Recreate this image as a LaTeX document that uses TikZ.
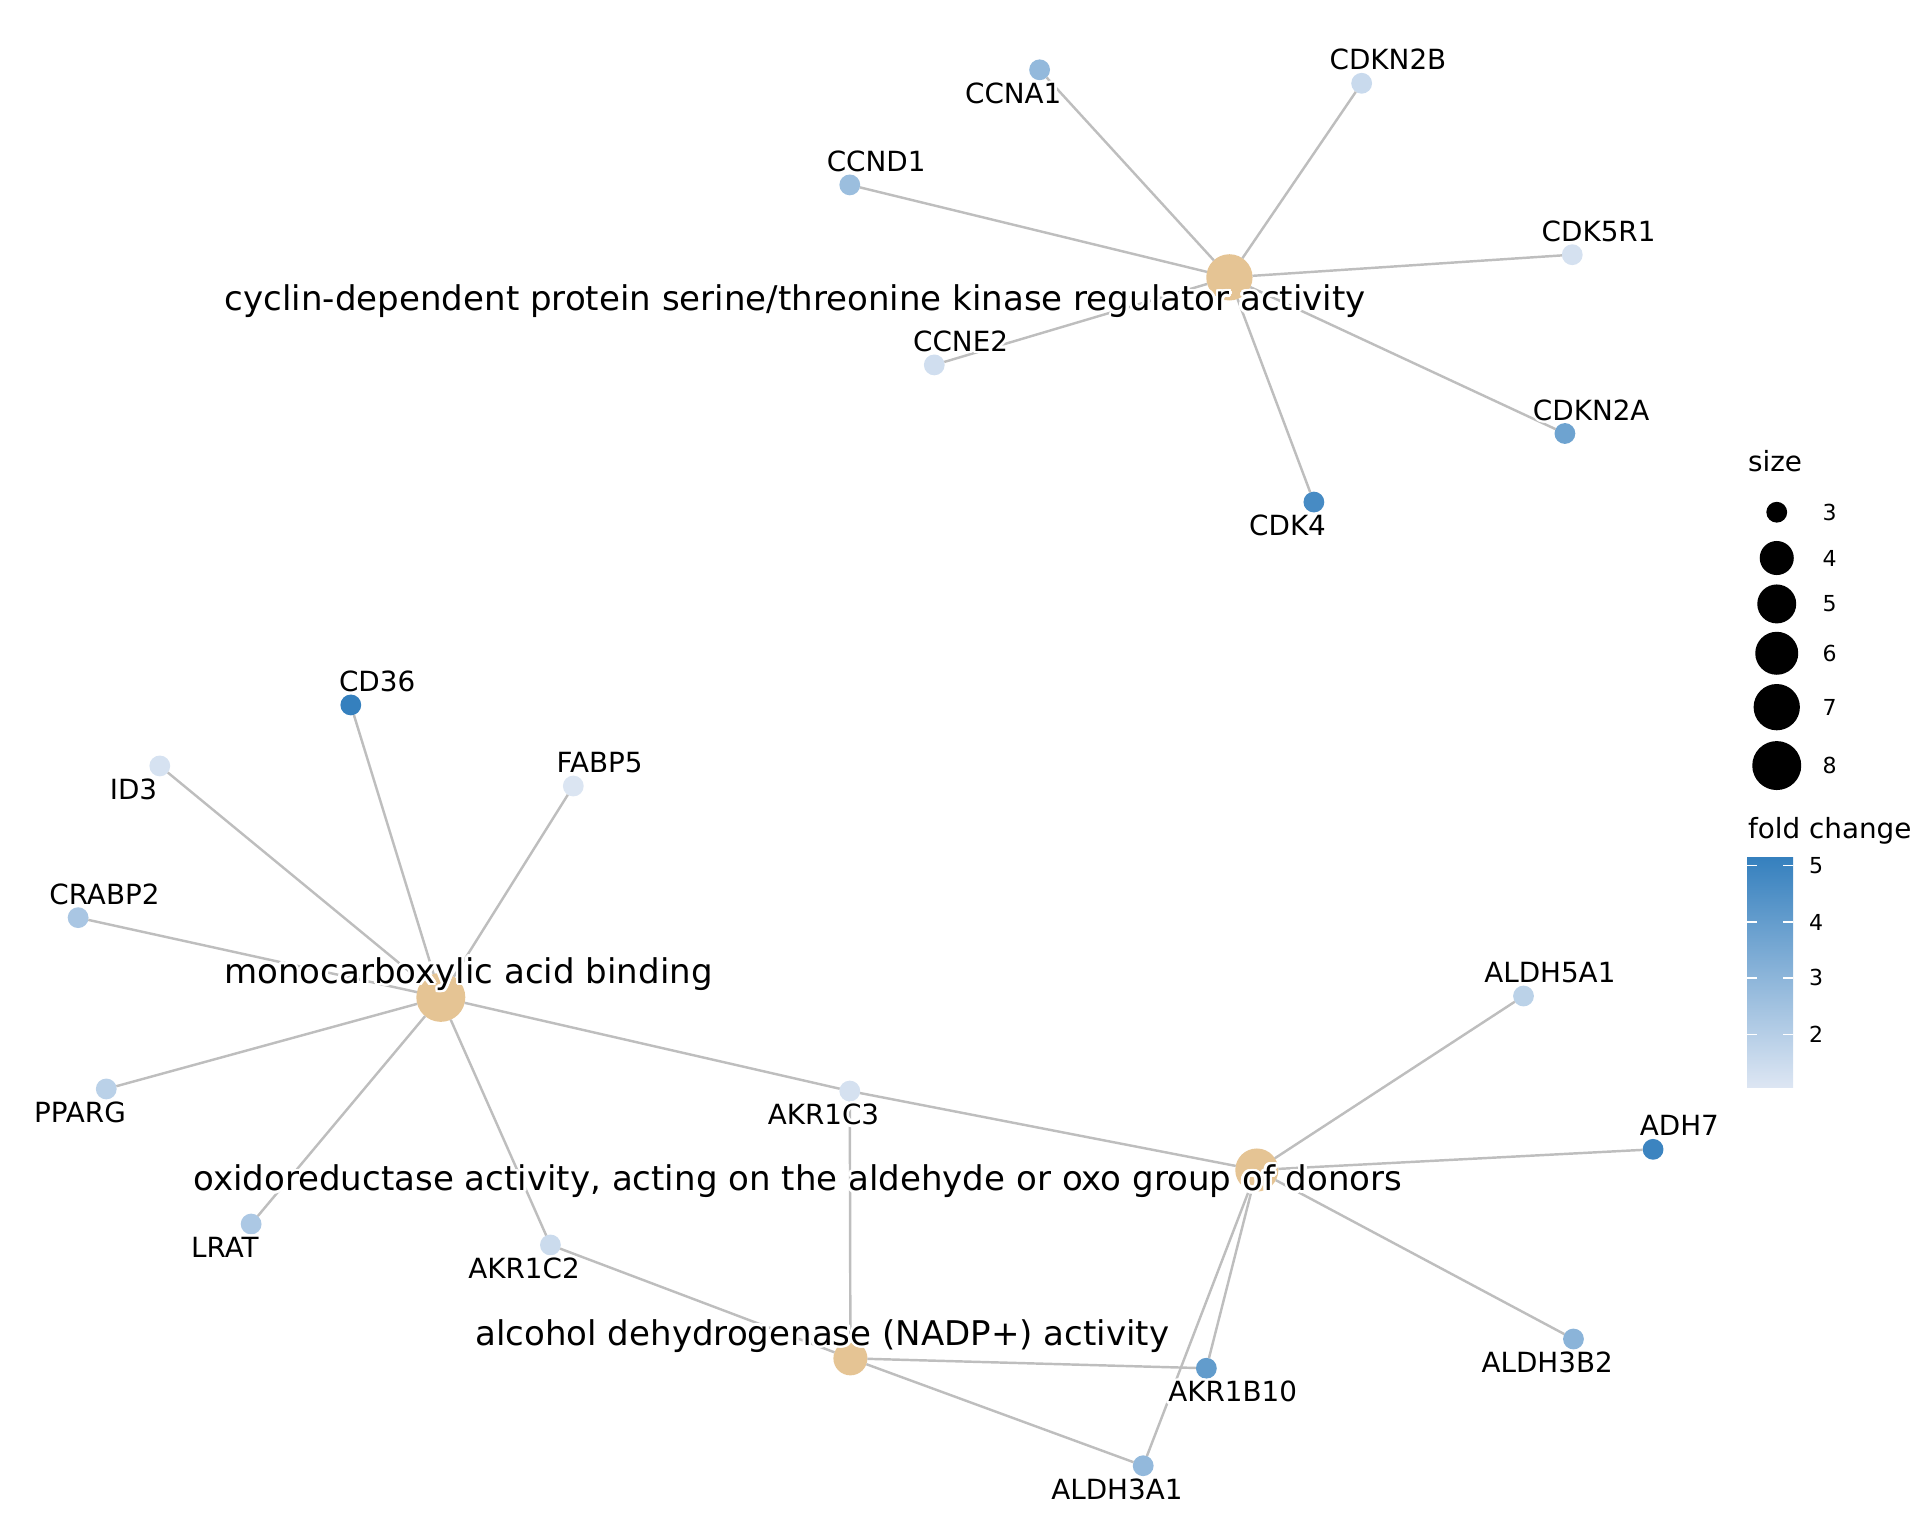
\documentclass[tikz,border=0pt]{standalone}
\usepackage{fontspec}
\setmainfont{DejaVu Sans}
\usepackage{contour}
\contourlength{1pt}
\contournumber{24}
\newcommand{\withhalo}[1]{\contour{white}{#1}}
\definecolor{hubcol}{HTML}{E5C494}
\definecolor{edgecol}{HTML}{BEBEBE}
\definecolor{fclow}{HTML}{DDE6F3}
\definecolor{fchigh}{HTML}{3580BE}

\begin{document}
\begin{tikzpicture}
[x=0.5pt, y=-0.5pt,
 gene/.style={circle, inner sep=0, outer sep=0, minimum size=8.5pt},
 hub/.style={circle, fill=hubcol, inner sep=0, outer sep=0},
 dot/.style={circle, fill=black, inner sep=0, outer sep=0},
 link/.style={draw=edgecol, line width=1pt},
 glab/.style={anchor=base, inner sep=0, font=\fontsize{11.35}{13}\selectfont},
 hlab/.style={anchor=base, inner sep=0, font=\fontsize{13.9}{16}\selectfont},
 ltitle/.style={anchor=base west, inner sep=0, font=\fontsize{11.35}{13}\selectfont},
 ltext/.style={anchor=west, inner sep=0, font=\fontsize{9}{11}\selectfont},
 tickmark/.style={draw=white, line width=0.5pt},
 bl/.style={xshift=-10.75pt, yshift=-13.75pt},
 ar/.style={xshift=10.75pt, yshift=5.5pt},
 br/.style={xshift=10.75pt, yshift=-13.75pt}]
\useasboundingbox (0,0) rectangle (1568,1254.4);
% cyclin-dependent kinase regulators
\node (cyc) [hub, minimum size=18.9pt] at (1004,226.5) {};
\node (ccna1) [gene, fill=fchigh!44!fclow] at (849,57) {};
\node (cdkn2b) [gene, fill=fchigh!12!fclow] at (1112,68) {};
\node (ccnd1) [gene, fill=fchigh!39!fclow] at (694,151) {};
\node (cdk5r1) [gene, fill=fchigh!5!fclow] at (1284,208) {};
\node (ccne2) [gene, fill=fchigh!8!fclow] at (763,298) {};
\node (cdkn2a) [gene, fill=fchigh!66!fclow] at (1278,354) {};
\node (cdk4) [gene, fill=fchigh!89!fclow] at (1073,410) {};
% monocarboxylic acid binding
\node (mono) [hub, minimum size=20pt] at (360,814.5) {};
\node (cd36) [gene, fill=fchigh] at (286.5,575.7) {};
\node (id3) [gene, fill=fchigh!4!fclow] at (130.5,625.5) {};
\node (fabp5) [gene, fill=fchigh!1!fclow] at (468.2,641.9) {};
\node (crabp2) [gene, fill=fchigh!31!fclow] at (63.8,749.4) {};
\node (pparg) [gene, fill=fchigh!21!fclow] at (86.8,889.3) {};
\node (lrat) [gene, fill=fchigh!29!fclow] at (205.1,999.6) {};
\node (akr1c2) [gene, fill=fchigh!11!fclow] at (449.5,1016.7) {};
\node (akr1c3) [gene, fill=fchigh!5!fclow] at (694,891) {};
% oxidoreductase
\node (oxi) [hub, minimum size=17.6pt] at (1026.4,955.5) {};
\node (aldh5a1) [gene, fill=fchigh!20!fclow] at (1244.2,813.4) {};
\node (adh7) [gene, fill=fchigh!96!fclow] at (1350,938.6) {};
\node (aldh3b2) [gene, fill=fchigh!49!fclow] at (1285,1093.5) {};
\node (akr1b10) [gene, fill=fchigh!73!fclow] at (985.2,1117.4) {};
\node (aldh3a1) [gene, fill=fchigh!44!fclow] at (933.6,1197) {};
% alcohol dehydrogenase
\node (alc) [hub, minimum size=13.9pt] at (694.5,1109.3) {};

\draw [link] (cyc) -- (ccna1);
\draw [link] (cyc) -- (cdkn2b);
\draw [link] (cyc) -- (ccnd1);
\draw [link] (cyc) -- (cdk5r1);
\draw [link] (cyc) -- (ccne2);
\draw [link] (cyc) -- (cdkn2a);
\draw [link] (cyc) -- (cdk4);
\draw [link] (mono) -- (cd36);
\draw [link] (mono) -- (id3);
\draw [link] (mono) -- (fabp5);
\draw [link] (mono) -- (crabp2);
\draw [link] (mono) -- (pparg);
\draw [link] (mono) -- (lrat);
\draw [link] (mono) -- (akr1c2);
\draw [link] (mono) -- (akr1c3);
\draw [link] (oxi) -- (akr1c3);
\draw [link] (oxi) -- (aldh5a1);
\draw [link] (oxi) -- (adh7);
\draw [link] (oxi) -- (aldh3b2);
\draw [link] (oxi) -- (akr1b10);
\draw [link] (oxi) -- (aldh3a1);
\draw [link] (alc) -- (akr1c2);
\draw [link] (alc) -- (akr1c3);
\draw [link] (alc) -- (akr1b10);
\draw [link] (alc) -- (aldh3a1);

% gene labels
\node (ccna1-lab) [glab, bl] at (ccna1) {\withhalo{CCNA1}};
\node (cdkn2b-lab) [glab, ar] at (cdkn2b) {\withhalo{CDKN2B}};
\node (ccnd1-lab) [glab, ar] at (ccnd1) {\withhalo{CCND1}};
\node (cdk5r1-lab) [glab, ar] at (cdk5r1) {\withhalo{CDK5R1}};
\node (ccne2-lab) [glab, ar] at (ccne2) {\withhalo{CCNE2}};
\node (cdkn2a-lab) [glab, ar] at (cdkn2a) {\withhalo{CDKN2A}};
\node (cdk4-lab) [glab, bl] at (cdk4) {\withhalo{CDK4}};
\node (cd36-lab) [glab, ar] at (cd36) {\withhalo{CD36}};
\node (id3-lab) [glab, bl] at (id3) {\withhalo{ID3}};
\node (fabp5-lab) [glab, ar] at (fabp5) {\withhalo{FABP5}};
\node (crabp2-lab) [glab, ar] at (crabp2) {\withhalo{CRABP2}};
\node (pparg-lab) [glab, bl] at (pparg) {\withhalo{PPARG}};
\node (lrat-lab) [glab, bl] at (lrat) {\withhalo{LRAT}};
\node (akr1c2-lab) [glab, bl] at (akr1c2) {\withhalo{AKR1C2}};
\node (akr1c3-lab) [glab, bl] at (akr1c3) {\withhalo{AKR1C3}};
\node (aldh5a1-lab) [glab, ar] at (aldh5a1) {\withhalo{ALDH5A1}};
\node (adh7-lab) [glab, ar] at (adh7) {\withhalo{ADH7}};
\node (aldh3b2-lab) [glab, bl] at (aldh3b2) {\withhalo{ALDH3B2}};
\node (akr1b10-lab) [glab, br] at (akr1b10) {\withhalo{AKR1B10}};
\node (aldh3a1-lab) [glab, bl] at (aldh3a1) {\withhalo{ALDH3A1}};
% term labels
\node (cyc-lab) [hlab] at (649.5,253.7) {\withhalo{cyclin-dependent protein serine/threonine kinase regulator activity}};
\node (mono-lab) [hlab] at (382.5,803) {\withhalo{monocarboxylic acid binding}};
\node (oxi-lab) [hlab] at (651.5,972.4) {\withhalo{oxidoreductase activity, acting on the aldehyde or oxo group of donors}};
\node (alc-lab) [hlab] at (671.5,1098.4) {\withhalo{alcohol dehydrogenase (NADP+) activity}};

% legend: size
\node (size-title) [ltitle] at (1427.2,384.8) {size};
\node (s3) [dot, minimum size=8.5pt] at (1451,418.3) {};
\node (s4) [dot, minimum size=13.9pt] at (1451,455.7) {};
\node (s5) [dot, minimum size=15.9pt] at (1451,493.2) {};
\node (s6) [dot, minimum size=17.55pt] at (1451,533.5) {};
\node (s7) [dot, minimum size=18.9pt] at (1451,577.5) {};
\node (s8) [dot, minimum size=20pt] at (1451,625.2) {};
\node (s3-lab) [ltext] at (1488,418.3) {3};
\node (s4-lab) [ltext] at (1488,455.7) {4};
\node (s5-lab) [ltext] at (1488,493.2) {5};
\node (s6-lab) [ltext] at (1488,533.5) {6};
\node (s7-lab) [ltext] at (1488,577.5) {7};
\node (s8-lab) [ltext] at (1488,625.2) {8};
% legend: fold change
\node (fc-title) [ltitle] at (1427.2,684.8) {fold change};
\shade [top color=fchigh, bottom color=fclow] (1426.7,700) rectangle (1464.3,888);
\draw [tickmark] (1426.7,706.6) -- +(8,0) (1464.3,706.6) -- +(-8,0);
\draw [tickmark] (1426.7,753) -- +(8,0) (1464.3,753) -- +(-8,0);
\draw [tickmark] (1426.7,798.6) -- +(8,0) (1464.3,798.6) -- +(-8,0);
\draw [tickmark] (1426.7,844.8) -- +(8,0) (1464.3,844.8) -- +(-8,0);
\node (fc5) [ltext] at (1477,706.6) {5};
\node (fc4) [ltext] at (1477,753) {4};
\node (fc3) [ltext] at (1477,798.6) {3};
\node (fc2) [ltext] at (1477,844.8) {2};
\end{tikzpicture}
\end{document}
